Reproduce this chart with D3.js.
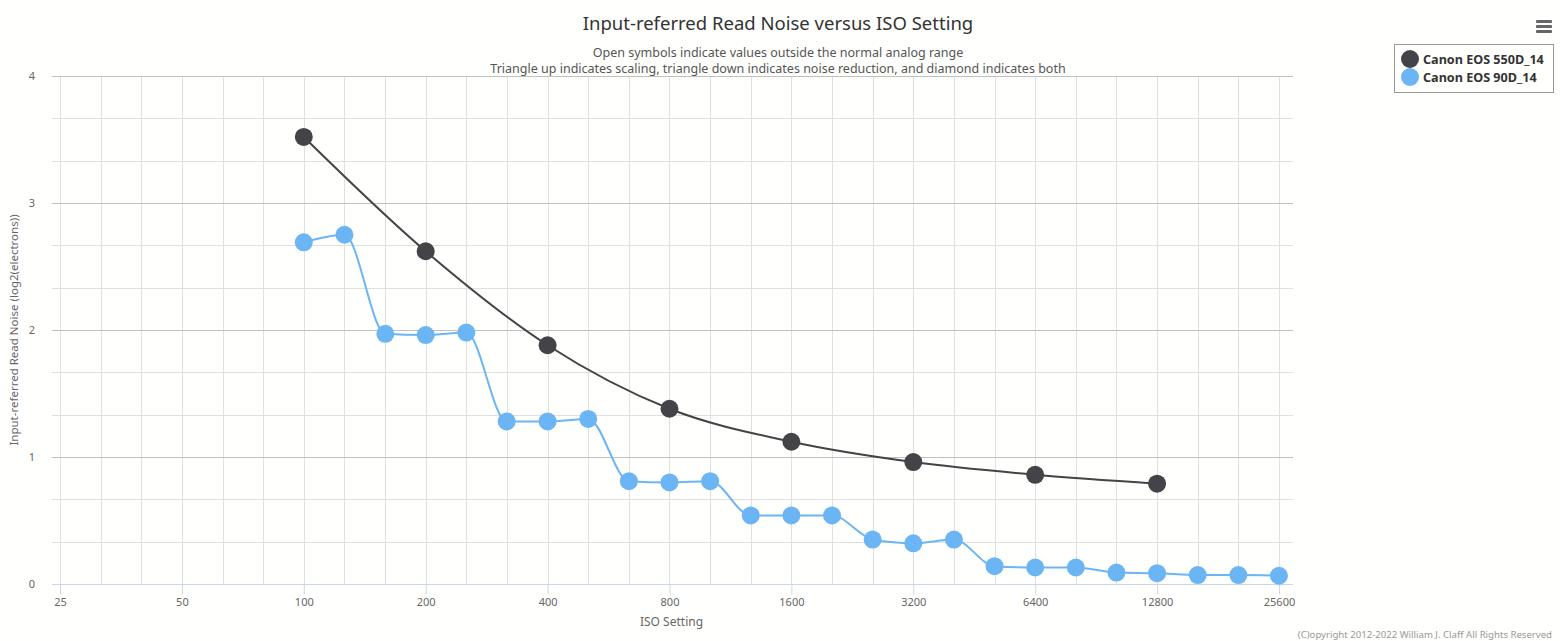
<!DOCTYPE html>
<html>
<head>
<meta charset="utf-8">
<script src="https://cdn.jsdelivr.net/npm/d3@7"></script>
<style>
  html, body { margin: 0; padding: 0; background: #fffffd; }
  svg { display: block; font-family: "Noto Sans", "Liberation Sans", Arial, sans-serif; }
</style>
</head>
<body>
<svg id="chart" width="1560" height="641"></svg>
<script>
// ---- data ----
const seriesNames = ["Canon EOS 550D_14", "Canon EOS 90D_14"];
const iso550D = [100, 200, 400, 800, 1600, 3200, 6400, 12800];
const noise550D = [3.52, 2.62, 1.88, 1.38, 1.12, 0.96, 0.86, 0.79];
const iso90D = [100, 126, 159, 200, 252, 317, 400, 504, 635, 800, 1008, 1270, 1600,
                2016, 2540, 3200, 4032, 5080, 6400, 8063, 10159, 12800, 16127, 20319, 25600];
const noise90D = [2.69, 2.75, 1.97, 1.96, 1.98, 1.28, 1.28, 1.30, 0.81, 0.80, 0.81, 0.54, 0.54,
                  0.54, 0.35, 0.32, 0.35, 0.14, 0.13, 0.13, 0.09, 0.085, 0.07, 0.07, 0.065];
const xTickValues = [25, 50, 100, 200, 400, 800, 1600, 3200, 6400, 12800, 25600];
const yTickValues = [0, 1, 2, 3, 4];
const titleText = "Input-referred Read Noise versus ISO Setting";
const subtitleLines = ["Open symbols indicate values outside the normal analog range",
  "Triangle up indicates scaling, triangle down indicates noise reduction, and diamond indicates both"];
const xAxisTitle = "ISO Setting";
const yAxisTitle = "Input-referred Read Noise (log2(electrons))";
const creditText = "(C)opyright 2012-2022 William J. Claff All Rights Reserved";
const colors = ["#434348", "#6cb5f5"];

// ---- layout ----
const plot = { left: 52, right: 1293, top: 76, bottom: 584 };
const svg = d3.select("#chart");
const FONT = "Noto Sans, Liberation Sans, Arial, sans-serif";

const x = d3.scaleLog().base(2).domain([23.89, 27723]).range([plot.left, plot.right]);
const y = d3.scaleLinear().domain([0, 4]).range([plot.bottom, plot.top]);

// minor vertical grid every 1/3 octave from 25 to 25600
const vGrid = d3.range(0, 31).map(i => 25 * Math.pow(2, i / 3));
svg.append("g").selectAll("line").data(vGrid).join("line")
  .attr("x1", d => Math.round(x(d)) + 0.5).attr("x2", d => Math.round(x(d)) + 0.5)
  .attr("y1", plot.top).attr("y2", plot.bottom)
  .attr("stroke", "#e0e0e0").attr("stroke-width", 1);

// horizontal grid: minor thirds, major integers
const hMinor = d3.range(0, 13).map(i => i / 3).filter(v => Math.abs(v - Math.round(v)) > 1e-6);
svg.append("g").selectAll("line").data(hMinor).join("line")
  .attr("x1", plot.left).attr("x2", plot.right)
  .attr("y1", d => Math.round(y(d)) + 0.5).attr("y2", d => Math.round(y(d)) + 0.5)
  .attr("stroke", "#e0e0e0").attr("stroke-width", 1);
svg.append("g").selectAll("line").data(yTickValues.filter(v => v > 0)).join("line")
  .attr("x1", plot.left).attr("x2", plot.right)
  .attr("y1", d => Math.round(y(d)) + 0.5).attr("y2", d => Math.round(y(d)) + 0.5)
  .attr("stroke", "#c0c0c0").attr("stroke-width", 1);

// x axis
const xAxis = d3.axisBottom(x).tickValues(xTickValues).tickFormat(d3.format("d"))
  .tickSize(10).tickPadding(4);
const gx = svg.append("g").attr("transform", `translate(0,${plot.bottom + 0.5})`).call(xAxis);
gx.select(".domain").attr("d", `M${plot.left},0H${plot.right}`).attr("stroke", "#ccd6eb");
gx.selectAll(".tick line").attr("stroke", "#ccd6eb");
gx.selectAll(".tick text").attr("fill", "#666").attr("font-size", 11).attr("font-family", FONT);

// y axis
const yAxis = d3.axisLeft(y).tickValues(yTickValues).tickFormat(d3.format("d"))
  .tickSize(0).tickPadding(17);
const gy = svg.append("g").attr("transform", `translate(${plot.left},0)`).call(yAxis);
gy.select(".domain").remove();
gy.selectAll(".tick text").attr("fill", "#666").attr("font-size", 11).attr("font-family", FONT);

// titles
svg.append("text").attr("x", 778).attr("y", 30).attr("text-anchor", "middle")
  .attr("font-size", 18.5).attr("fill", "#333").text(titleText);
svg.append("g").selectAll("text").data(subtitleLines).join("text")
  .attr("x", 778).attr("y", (d, i) => 57 + i * 16).attr("text-anchor", "middle")
  .attr("font-size", 12.5).attr("fill", "#555").text(d => d);
svg.append("text").attr("x", (plot.left + plot.right) / 2 - 1).attr("y", 626)
  .attr("text-anchor", "middle").attr("font-size", 12).attr("fill", "#666").text(xAxisTitle);
svg.append("text").attr("transform", `translate(18,${(plot.top + plot.bottom) / 2}) rotate(-90)`)
  .attr("text-anchor", "middle").attr("font-size", 11.5).attr("fill", "#666").text(yAxisTitle);
svg.append("text").attr("x", 1552).attr("y", 638).attr("text-anchor", "end")
  .attr("font-size", 9.6).attr("fill", "#999").text(creditText);

// series
const series = [
  { name: seriesNames[0], xs: iso550D, ys: noise550D, color: colors[0] },
  { name: seriesNames[1], xs: iso90D, ys: noise90D, color: colors[1] }
];
const line = d3.line().x(d => x(d[0])).y(d => y(d[1])).curve(d3.curveMonotoneX);
series.slice().reverse().forEach(s => {
  const pts = s.xs.map((v, i) => [v, s.ys[i]]);
  svg.append("path").datum(pts).attr("d", line).attr("fill", "none")
    .attr("stroke", s.color).attr("stroke-width", 2);
  svg.append("g").selectAll("circle").data(pts).join("circle")
    .attr("cx", d => x(d[0])).attr("cy", d => y(d[1])).attr("r", 9)
    .attr("fill", s.color);
});

// legend
const lg = svg.append("g");
lg.append("rect").attr("x", 1394.5).attr("y", 44.5).attr("width", 159).attr("height", 48)
  .attr("fill", "none").attr("stroke", "#999").attr("stroke-width", 1);
series.forEach((s, i) => {
  lg.append("circle").attr("cx", 1410).attr("cy", 59 + i * 18).attr("r", 9).attr("fill", s.color);
  lg.append("text").attr("x", 1423).attr("y", 63.5 + i * 18).attr("font-size", 12.6)
    .attr("font-weight", "bold").attr("fill", "#333").text(s.name);
});

// menu icon
svg.append("g").selectAll("rect").data([0, 1, 2]).join("rect")
  .attr("x", 1536).attr("y", d => 20 + d * 5).attr("width", 16).attr("height", 3)
  .attr("rx", 1).attr("fill", "#666");
</script>
</body>
</html>
